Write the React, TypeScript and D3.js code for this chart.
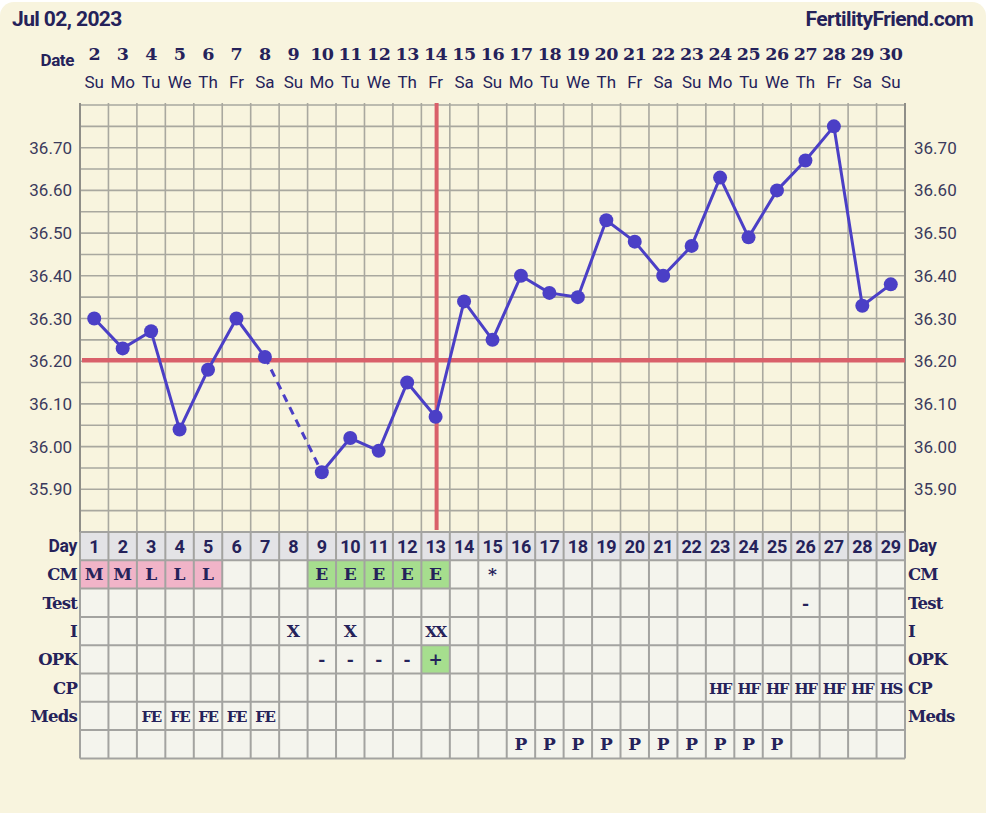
import React from "react";
import * as d3 from "d3";

const cycleDays = d3.range(1, 30);
const dates = [2, 3, 4, 5, 6, 7, 8, 9, 10, 11, 12, 13, 14, 15, 16, 17, 18, 19, 20, 21, 22, 23, 24, 25, 26, 27, 28, 29, 30];
const weekdays = ["Su", "Mo", "Tu", "We", "Th", "Fr", "Sa", "Su", "Mo", "Tu", "We", "Th", "Fr", "Sa", "Su", "Mo", "Tu", "We", "Th", "Fr", "Sa", "Su", "Mo", "Tu", "We", "Th", "Fr", "Sa", "Su"];
const temps: (number | null)[] = [36.30, 36.23, 36.27, 36.04, 36.18, 36.30, 36.21, null, 35.94, 36.02, 35.99, 36.15, 36.07, 36.34, 36.25, 36.40, 36.36, 36.35, 36.53, 36.48, 36.40, 36.47, 36.63, 36.49, 36.60, 36.67, 36.75, 36.33, 36.38];
const yTicks = [35.9, 36.0, 36.1, 36.2, 36.3, 36.4, 36.5, 36.6, 36.7];
const coverline = 36.2;
const ovulationDay = 13;

const rowLabels = ["Day", "CM", "Test", "I", "OPK", "CP", "Meds", ""];
// [day, text, fill]
const cmRow: [number, string, string][] = [[1, "M", "pink"], [2, "M", "pink"], [3, "L", "pink"], [4, "L", "pink"], [5, "L", "pink"], [9, "E", "green"], [10, "E", "green"], [11, "E", "green"], [12, "E", "green"], [13, "E", "green"], [15, "*", ""]];
const testRow: [number, string, string][] = [[26, "-", ""]];
const iRow: [number, string, string][] = [[8, "X", ""], [10, "X", ""], [13, "XX", ""]];
const opkRow: [number, string, string][] = [[9, "-", ""], [10, "-", ""], [11, "-", ""], [12, "-", ""], [13, "+", "green"]];
const cpRow: [number, string, string][] = [[23, "HF", ""], [24, "HF", ""], [25, "HF", ""], [26, "HF", ""], [27, "HF", ""], [28, "HF", ""], [29, "HS", ""]];
const medsRow: [number, string, string][] = [[3, "FE", ""], [4, "FE", ""], [5, "FE", ""], [6, "FE", ""], [7, "FE", ""]];
const extraRow: [number, string, string][] = [16, 17, 18, 19, 20, 21, 22, 23, 24, 25].map((d) => [d, "P", ""] as [number, string, string]);
const tableRows = [cmRow, testRow, iRow, opkRow, cpRow, medsRow, extraRow];

const W = 986;
const H = 813;
const left = 80;
const right = 905;
const top = 105;
const chartBottom = 532;
const rowH = 28.3;

const navy = "#25225a";
const lineColor = "#4b3fc6";
const red = "#d9606a";
const gridColor = "#a9a89f";
const fills: Record<string, string> = { pink: "#f1b4c8", green: "#a6de8e" };
const serif = "'DejaVu Serif', serif";
const sans = "Roboto, 'Noto Sans', sans-serif";

export default function App() {
  const x = d3.scaleBand<number>().domain(cycleDays).range([left, right]);
  const bw = x.bandwidth();
  const cx = (d: number) => (x(d) as number) + bw / 2;
  const y = d3.scaleLinear().domain([35.8, 36.8]).range([chartBottom, top]);

  const pts = cycleDays.map((d, i) => ({ d, t: temps[i] }));
  const solid = d3
    .line<{ d: number; t: number | null }>()
    .defined((p) => p.t !== null)
    .x((p) => cx(p.d))
    .y((p) => y(p.t as number));
  const valid = pts.filter((p) => p.t !== null);
  const dashedSegs: [typeof valid[0], typeof valid[0]][] = [];
  for (let i = 1; i < valid.length; i++) {
    if (valid[i].d - valid[i - 1].d > 1) dashedSegs.push([valid[i - 1], valid[i]]);
  }

  const hGrid = d3.range(35.85, 36.8, 0.05);
  const tableTop = chartBottom;
  const tableBottom = tableTop + rowH * rowLabels.length;

  return (
    <svg width={W} height={H} style={{ position: "absolute", left: 0, top: 0, display: "block" }}>
      <rect x={0} y={0} width={W} height={H} fill="#ffffff" />
      <rect x={0} y={2} width={W} height={H + 20} rx={14} fill="#f8f4de" />

      {/* header */}
      <text x={12} y={26} fontFamily={sans} fontWeight={700} fontSize={21} fill={navy} letterSpacing={-0.6}>Jul 02, 2023</text>
      <text x={973} y={26} textAnchor="end" fontFamily={sans} fontWeight={700} fontSize={21} fill={navy} letterSpacing={-0.6}>FertilityFriend.com</text>
      <text x={74} y={66} textAnchor="end" fontFamily={sans} fontWeight={700} fontSize={17} fill={navy} letterSpacing={-0.4}>Date</text>
      {cycleDays.map((d, i) => (
        <g key={"hd" + d}>
          <text x={cx(d)} y={60} textAnchor="middle" fontFamily={serif} fontWeight={700} fontSize={17.5} letterSpacing={-0.5} fill={navy}>{dates[i]}</text>
          <text x={cx(d)} y={88} textAnchor="middle" fontFamily={sans} fontSize={17} fill={navy}>{weekdays[i]}</text>
        </g>
      ))}

      {/* grid */}
      {hGrid.map((v) => (
        <line key={"hg" + v} x1={left} x2={right} y1={y(v)} y2={y(v)} stroke={gridColor} strokeWidth={1.6} />
      ))}
      <line x1={left} x2={right} y1={top} y2={top} stroke={gridColor} strokeWidth={1.6} />
      {cycleDays.slice(1).map((d) => (
        <line key={"vg" + d} x1={x(d) as number} x2={x(d) as number} y1={top - 2} y2={chartBottom} stroke={gridColor} strokeWidth={1.6} />
      ))}
      <line x1={left} x2={left} y1={top - 2} y2={chartBottom} stroke="#8f8e88" strokeWidth={2} />
      <line x1={right} x2={right} y1={top - 2} y2={chartBottom} stroke="#8f8e88" strokeWidth={2} />

      {/* y labels */}
      {yTicks.map((v) => (
        <g key={"yt" + v}>
          <text x={72} y={y(v) + 6} textAnchor="end" fontFamily={sans} fontSize={17} fill="#3b3a5c">{v.toFixed(2)}</text>
          <text x={914} y={y(v) + 6} textAnchor="start" fontFamily={sans} fontSize={17} fill="#3b3a5c">{v.toFixed(2)}</text>
        </g>
      ))}

      {/* coverline & ovulation line */}
      <line x1={left + 2} x2={right} y1={y(coverline) - 1} y2={y(coverline) - 1} stroke={red} strokeWidth={4.5} />
      <line x1={cx(ovulationDay) + 1} x2={cx(ovulationDay) + 1} y1={top - 2} y2={chartBottom - 2} stroke={red} strokeWidth={4} />

      {/* temperature line */}
      {dashedSegs.map(([a, b], i) => (
        <line key={"ds" + i} x1={cx(a.d)} y1={y(a.t as number)} x2={cx(b.d)} y2={y(b.t as number)} stroke={lineColor} strokeWidth={3} strokeDasharray="8,6" />
      ))}
      <path d={solid(pts) || ""} fill="none" stroke={lineColor} strokeWidth={3} strokeLinejoin="round" />
      {valid.map((p) => (
        <circle key={"pt" + p.d} cx={cx(p.d)} cy={y(p.t as number)} r={7} fill={lineColor} />
      ))}

      {/* table */}
      {rowLabels.map((lab, r) => (
        <g key={"row" + r}>
          {cycleDays.map((d) => (
            <rect key={"c" + d} x={x(d) as number} y={tableTop + r * rowH} width={bw} height={rowH} fill={r === 0 ? "#e3e3e6" : "#f4f4ed"} />
          ))}
        </g>
      ))}
      {tableRows.map((row, ri) =>
        row.filter((c) => c[2]).map((c) => (
          <rect key={"f" + ri + "-" + c[0]} x={x(c[0]) as number} y={tableTop + (ri + 1) * rowH} width={bw} height={rowH} fill={fills[c[2]]} />
        ))
      )}
      {d3.range(0, rowLabels.length + 1).map((r) => (
        <line key={"th" + r} x1={left} x2={right} y1={tableTop + r * rowH} y2={tableTop + r * rowH} stroke="#a3a3a0" strokeWidth={2} />
      ))}
      {cycleDays.concat([30]).map((d, i) => {
        const xx = i === 29 ? right : (x(d) as number);
        return <line key={"tv" + d} x1={xx} x2={xx} y1={tableTop} y2={tableBottom} stroke="#a3a3a0" strokeWidth={2} />;
      })}
      {cycleDays.map((d) => (
        <text key={"dn" + d} x={cx(d)} y={tableTop + rowH / 2 + 6.5} textAnchor="middle" fontFamily={sans} fontWeight={700} fontSize={18} letterSpacing={-0.3} fill={navy}>{d}</text>
      ))}
      {tableRows.map((row, ri) =>
        row.map((c) => (
          <text key={"t" + ri + "-" + c[0]} x={cx(c[0])} y={tableTop + (ri + 1) * rowH + rowH / 2 + 6} textAnchor="middle" fontFamily={serif} fontWeight={700} fontSize={c[1].length > 1 ? 15 : 17} letterSpacing={c[1].length > 1 ? -1.4 : 0} fill={navy}>{c[1]}</text>
        ))
      )}
      {rowLabels.map((lab, r) => (
        <g key={"rl" + r}>
          <text x={77} y={tableTop + r * rowH + rowH / 2 + 6} textAnchor="end" fontFamily={r === 0 ? sans : serif} fontWeight={700} fontSize={r === 0 ? 17.5 : 16.5} letterSpacing={r === 0 ? -0.3 : -0.8} fill={navy}>{lab}</text>
          <text x={908} y={tableTop + r * rowH + rowH / 2 + 6} textAnchor="start" fontFamily={r === 0 ? sans : serif} fontWeight={700} fontSize={r === 0 ? 17.5 : 16.5} letterSpacing={r === 0 ? -0.3 : -0.8} fill={navy}>{lab}</text>
        </g>
      ))}
    </svg>
  );
}
